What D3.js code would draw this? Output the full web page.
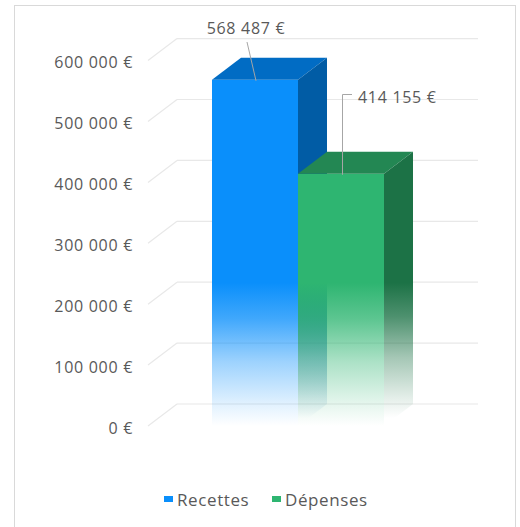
<!DOCTYPE html>
<html>
<head>
<meta charset="utf-8">
<script src="https://cdn.jsdelivr.net/npm/d3@7"></script>
<style>
  body { margin: 0; background: #fff; }
  svg text { font-family: "Open Sans", "Lato", sans-serif; fill: #595959; }
</style>
</head>
<body>
<div id="chart"></div>
<script>
// data
var categories = ["Recettes", "Dépenses"];
var values = [568487, 414155];
var tickValues = [0, 100000, 200000, 300000, 400000, 500000, 600000];
var valueLabels = ["568 487 €", "414 155 €"];

var width = 520, height = 527;
var depthX = 29, depthY = -22;   // 3D depth offset
var faceColors = [
  {front: "#0a8ffb", top: "#016cc4", side: "#015ca5"},
  {front: "#2eb571", top: "#238753", side: "#1c7246"}
];

var euro = function(d) { return d3.format(",")(d).replace(/,/g, " ") + " €"; };

var svg = d3.select("#chart").append("svg")
    .attr("width", width)
    .attr("height", height);

// chart border
svg.append("rect")
    .attr("x", 14.5).attr("y", 5.5)
    .attr("width", 501).attr("height", 540)
    .attr("fill", "none")
    .attr("stroke", "#d9d9d9");

var y = d3.scaleLinear().domain([0, 600000]).range([426, 60.6]);
var x = d3.scaleBand().domain(categories).range([212, 384]).paddingInner(0);

// gradients (bars fade out toward the floor)
var defs = svg.append("defs");
var fadeStops = [[0, 1], [0.25, 0.78], [0.55, 0.4], [0.85, 0.12], [1, 0]];
faceColors.forEach(function(c, i) {
  ["front", "side"].forEach(function(k) {
    var g = defs.append("linearGradient")
        .attr("id", "g" + i + k)
        .attr("gradientUnits", "userSpaceOnUse")
        .attr("x1", 0).attr("x2", 0)
        .attr("y1", y(235000)).attr("y2", y(0) + (k == "side" ? -8 : 0));
    fadeStops.forEach(function(s) {
      g.append("stop").attr("offset", s[0]).attr("stop-color", c[k]).attr("stop-opacity", s[1]);
    });
  });
});

// grid: back wall lines + floor diagonals
var grid = svg.append("g").attr("class", "grid");
grid.selectAll("line.back")
    .data(tickValues)
  .enter().append("line")
    .attr("x1", 148 + depthX).attr("x2", 478)
    .attr("y1", function(d) { return y(d) + depthY; })
    .attr("y2", function(d) { return y(d) + depthY; })
    .attr("stroke", "#e8e8e8").attr("stroke-width", 1.2);
grid.selectAll("line.diag")
    .data(tickValues)
  .enter().append("line")
    .attr("x1", 148).attr("x2", 148 + depthX)
    .attr("y1", function(d) { return y(d); })
    .attr("y2", function(d) { return y(d) + depthY; })
    .attr("stroke", "#e8e8e8").attr("stroke-width", 1.2);

// y axis labels
var yAxis = d3.axisLeft(y).tickValues(tickValues).tickFormat(euro).tickSize(0).tickPadding(15);
svg.append("g")
    .attr("transform", "translate(148,2)")
    .call(yAxis)
    .call(function(g) { g.select(".domain").remove(); })
  .selectAll("text")
    .style("font-size", "16px")
    .style("letter-spacing", "0.7px")
    .attr("fill", "#595959");

// bars
var bars = svg.selectAll("g.bar")
    .data(values)
  .enter().append("g")
    .attr("class", "bar");

bars.append("polygon")   // front
    .attr("points", function(d, i) {
      var x0 = x(categories[i]), x1 = x0 + x.bandwidth();
      return [[x0, y(d)], [x1, y(d)], [x1, y(0)], [x0, y(0)]].join(" ");
    })
    .attr("fill", function(d, i) { return "url(#g" + i + "front)"; });

bars.append("polygon")   // top
    .attr("points", function(d, i) {
      var x0 = x(categories[i]), x1 = x0 + x.bandwidth();
      return [[x0, y(d)], [x0 + depthX, y(d) + depthY], [x1 + depthX, y(d) + depthY], [x1, y(d)]].join(" ");
    })
    .attr("fill", function(d, i) { return faceColors[i].top; });

bars.append("polygon")   // side
    .attr("points", function(d, i) {
      var x1 = x(categories[i]) + x.bandwidth();
      return [[x1, y(d)], [x1 + depthX, y(d) + depthY], [x1 + depthX, y(0) + depthY], [x1, y(0)]].join(" ");
    })
    .attr("fill", function(d, i) { return "url(#g" + i + "side)"; });

// data labels with leader lines
var lbl = svg.append("g").attr("class", "labels")
    .style("font-size", "16px").style("letter-spacing", "0.7px");
var b0 = x(categories[0]);
lbl.append("path")
    .attr("d", "M247,42L" + (b0 + 44) + "," + (y(values[0]) + 1))
    .attr("stroke", "#a6a6a6").attr("fill", "none");
lbl.append("text")
    .attr("x", 246).attr("y", 34)
    .attr("text-anchor", "middle")
    .text(valueLabels[0]);

lbl.append("path")
    .attr("d", "M352,94.5H342.5V" + (y(values[1]) + 1))
    .attr("stroke", "#a6a6a6").attr("fill", "none");
lbl.append("text")
    .attr("x", 358).attr("y", 103)
    .text(valueLabels[1]);

// legend
var legend = svg.append("g").attr("class", "legend")
    .style("font-size", "17px").style("letter-spacing", "0.6px");
var legendX = [164, 272], legendTextX = [177, 285];
categories.forEach(function(c, i) {
  legend.append("rect")
      .attr("x", legendX[i]).attr("y", 496)
      .attr("width", 9).attr("height", 6)
      .attr("fill", faceColors[i].front);
  legend.append("text")
      .attr("x", legendTextX[i]).attr("y", 506)
      .text(c);
});
</script>
</body>
</html>
